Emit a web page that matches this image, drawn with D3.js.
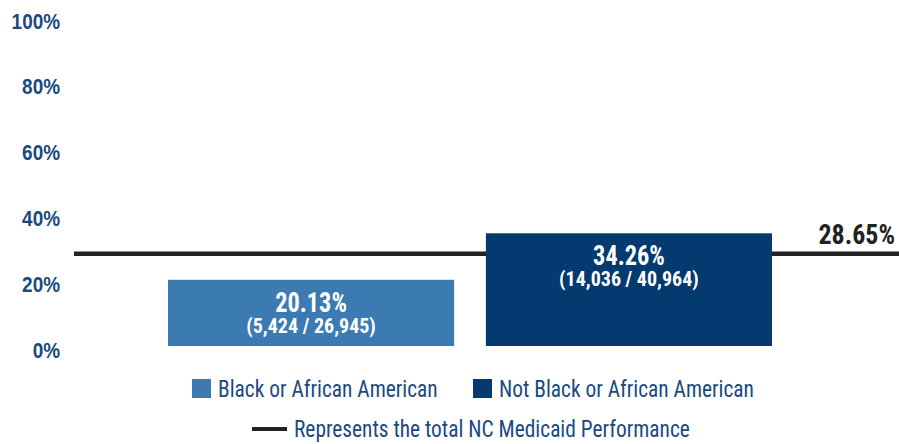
<!DOCTYPE html>
<html>
<head>
<meta charset="utf-8">
<script src="https://cdn.jsdelivr.net/npm/d3@7"></script>
<style>
  body { margin: 0; background: #fff; }
  svg { display: block; font-family: "Roboto Condensed", "Liberation Sans Narrow", Roboto, sans-serif; }
</style>
</head>
<body>
<div id="chart"></div>
<script>
// data
var groups = ["Black or African American", "Not Black or African American"];
var rates = [20.13, 34.26];
var counts = ["(5,424 / 26,945)", "(14,036 / 40,964)"];
var colors = ["#3b7bb2", "#033a70"];
var total = 28.65;
var yTicks = [0, 20, 40, 60, 80, 100];
var lineLabel = "Represents the total NC Medicaid Performance";

var width = 899, height = 444;
var blue = "#1a4a7e";

var svg = d3.select("#chart").append("svg")
    .attr("width", width)
    .attr("height", height);

var x = d3.scaleBand()
    .domain(groups)
    .range([168, 772])
    .paddingInner(0.1)
    .paddingOuter(0);

var y = d3.scaleLinear()
    .domain([0, 100])
    .range([346, 17]);

// stretch/squeeze text to match the condensed source face
function condense(sel, k) {
    sel.each(function() {
        var w = this.getComputedTextLength();
        d3.select(this).attr("textLength", w * k).attr("lengthAdjust", "spacingAndGlyphs");
    });
}

// y axis labels only, no line, no ticks
var yAxis = svg.append("g")
    .attr("transform", "translate(60,0)")
    .call(d3.axisLeft(y).tickValues(yTicks).tickFormat(d => d + "%").tickSize(0).tickPadding(0));
yAxis.select(".domain").remove();
yAxis.selectAll("text")
    .attr("fill", blue)
    .attr("font-size", 22)
    .attr("font-weight", "bold")
    .attr("font-family", null)
    .attr("dy", "0.5em")
    .call(condense, 0.86);

// bars
svg.selectAll(".bar")
    .data(groups)
    .enter().append("rect")
    .attr("class", "bar")
    .attr("x", d => x(d))
    .attr("width", x.bandwidth())
    .attr("y", (d, i) => y(rates[i]))
    .attr("height", (d, i) => y(0) - y(rates[i]))
    .attr("fill", (d, i) => colors[i]);

// total line
svg.append("line")
    .attr("x1", 74)
    .attr("x2", width)
    .attr("y1", y(total) + 2)
    .attr("y2", y(total) + 2)
    .attr("stroke", "#222")
    .attr("stroke-width", 4.5);

// bars sit on top of the line
svg.selectAll(".bar").raise();

svg.append("text")
    .attr("x", 895)
    .attr("y", y(total) - 8)
    .attr("text-anchor", "end")
    .attr("fill", "#222")
    .attr("font-size", 27)
    .attr("font-weight", "bold")
    .text(total.toFixed(2) + "%")
    .call(condense, 0.96);

// bar labels
svg.selectAll(".val")
    .data(groups)
    .enter().append("text")
    .attr("class", "val")
    .attr("x", d => x(d) + x.bandwidth() / 2)
    .attr("y", (d, i) => y(rates[i]) + 32)
    .attr("text-anchor", "middle")
    .attr("fill", "#fff")
    .attr("font-size", 27)
    .attr("font-weight", "bold")
    .text((d, i) => rates[i].toFixed(2) + "%")
    .call(condense, 0.9);

svg.selectAll(".cnt")
    .data(groups)
    .enter().append("text")
    .attr("class", "cnt")
    .attr("x", d => x(d) + x.bandwidth() / 2)
    .attr("y", (d, i) => y(rates[i]) + 53)
    .attr("text-anchor", "middle")
    .attr("fill", "#fff")
    .attr("font-size", 20)
    .attr("font-weight", "bold")
    .text((d, i) => counts[i])
    .call(condense, 1.0);

// legend
var legX = [192, 473];
var leg = svg.selectAll(".leg")
    .data(groups)
    .enter().append("g")
    .attr("class", "leg")
    .attr("transform", (d, i) => "translate(" + legX[i] + ",379)");
leg.append("rect")
    .attr("width", 19)
    .attr("height", 19)
    .attr("fill", (d, i) => colors[i]);
leg.append("text")
    .attr("x", 26)
    .attr("y", 18)
    .attr("fill", blue)
    .attr("font-size", 23)
    .text(d => d)
    .call(condense, 0.93);

svg.append("line")
    .attr("x1", 252)
    .attr("x2", 287)
    .attr("y1", 429)
    .attr("y2", 429)
    .attr("stroke", "#222")
    .attr("stroke-width", 4);
svg.append("text")
    .attr("x", 294)
    .attr("y", 437)
    .attr("fill", blue)
    .attr("font-size", 23)
    .text(lineLabel)
    .call(condense, 0.93);
</script>
</body>
</html>
